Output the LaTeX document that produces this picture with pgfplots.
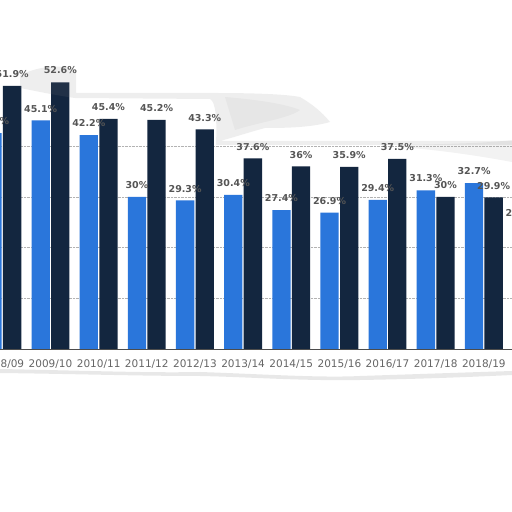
\documentclass[border=0pt]{standalone}
\usepackage{pgfplots}
\pgfplotsset{compat=1.18}
\usepackage{fontspec}
\setmainfont{DejaVu Sans}
\definecolor{sblue}{HTML}{2A76DB}
\definecolor{snavy}{HTML}{13263F}
\definecolor{lblgray}{HTML}{555555}
\definecolor{tickgray}{HTML}{666666}
\pgfplotstableread{
x blue navy
0 42.6 51.9
1 45.1 52.6
2 42.2 45.4
3 30 45.2
4 29.3 43.3
5 30.4 37.6
6 27.4 36
7 26.9 35.9
8 29.4 37.5
9 31.3 30
10 32.7 29.9
}\datatable
\pgfplotstableread{
x blue
11 24.5
}\lasttable
\begin{document}
\begin{tikzpicture}[x=1pt,y=1pt]
\clip (0,0) rectangle (512,512);
\fill[white] (0,0) rectangle (512,512);
\begin{axis}[
  at={(0pt,163pt)}, anchor=south west,
  scale only axis, width=512pt, height=304.2pt,
  xmin=-0.0488, xmax=10.585, ymin=0, ymax=60,
  clip=false,
  axis x line=bottom, axis y line=left,
  axis line style={-},
  x axis line style={draw=black!70, line width=0.6pt},
  y axis line style={draw=none},
  major tick length=0pt,
  ytick={10,20,30,40}, yticklabels={},
  ymajorgrids, grid style={densely dotted, gray!60, line width=0.5pt},
  xtick={0,...,11},
  xticklabels={2008/09,2009/10,2010/11,2011/12,2012/13,2013/14,2014/15,2015/16,2016/17,2017/18,2018/19,2019/20},
  xticklabel style={font=\fontsize{10.5}{12}\selectfont, text=tickgray, inner sep=0pt, anchor=north, yshift=-11pt},
  lbl/.style={draw=none, mark=none, nodes near coords={\pgfmathprintnumber[assume math mode=true]{\pgfplotspointmeta}\%},
    every node near coord/.style={font=\bfseries\fontsize{9.5}{11}\selectfont, text=lblgray, anchor=south, inner sep=0pt, yshift=8pt, xshift=#1}},
]
\addplot[ybar, bar width=18.3pt, bar shift=-9.8pt, fill=sblue, draw=none] table[x=x, y=blue] {\datatable};
\addplot[ybar, bar width=18.3pt, bar shift=-9.8pt, fill=sblue, draw=none] table[x=x, y=blue] {\lasttable};
\addplot[ybar, bar width=18.3pt, bar shift=9.8pt, fill=snavy, draw=none] table[x=x, y=navy] {\datatable};
\addplot[lbl=-9.8pt] table[x=x, y=blue, meta=blue] {\datatable};
\addplot[lbl=-9.8pt] table[x=x, y=blue, meta=blue] {\lasttable};
\addplot[lbl=9.8pt] table[x=x, y=navy, meta=navy] {\datatable};
\end{axis}
\begin{scope}[yshift=512pt, yscale=-1]
  % top tear shadow
  \fill[gray, opacity=0.13] (20,75) .. controls (40,66) and (60,64) .. (76,70) -- (76,93) -- (215,93) .. controls (250,93) and (285,94) .. (300,97) .. controls (312,104) and (322,112) .. (330,122) .. controls (310,128) and (280,128) .. (265,128) .. controls (250,132) and (235,137) .. (220,141) -- (512,141) -- (512,145) -- (216,145) .. controls (217,120) and (216,102) .. (210,99) -- (75,98) .. controls (60,96) and (40,92) .. (20,88) -- cycle;
  \fill[gray, opacity=0.07] (225,97) .. controls (260,100) and (285,104) .. (300,110) .. controls (290,118) and (260,122) .. (235,130) -- cycle;
  \fill[gray, opacity=0.1] (400,145) .. controls (450,144) and (490,143) .. (512,140) -- (512,162) .. controls (480,156) and (440,150) .. (400,147) -- cycle;
  % bottom tear shadow
  \fill[gray, opacity=0.18] (0,369) .. controls (100,371) and (150,373) .. (200,372) .. controls (260,374) and (320,378) .. (360,376) .. controls (420,374) and (480,372) .. (512,371) -- (512,375) .. controls (470,377) and (420,379) .. (360,380) .. controls (300,381) and (250,377) .. (200,376) .. controls (140,376) and (80,374) .. (0,373) -- cycle;
\end{scope}
\end{tikzpicture}
\end{document}
